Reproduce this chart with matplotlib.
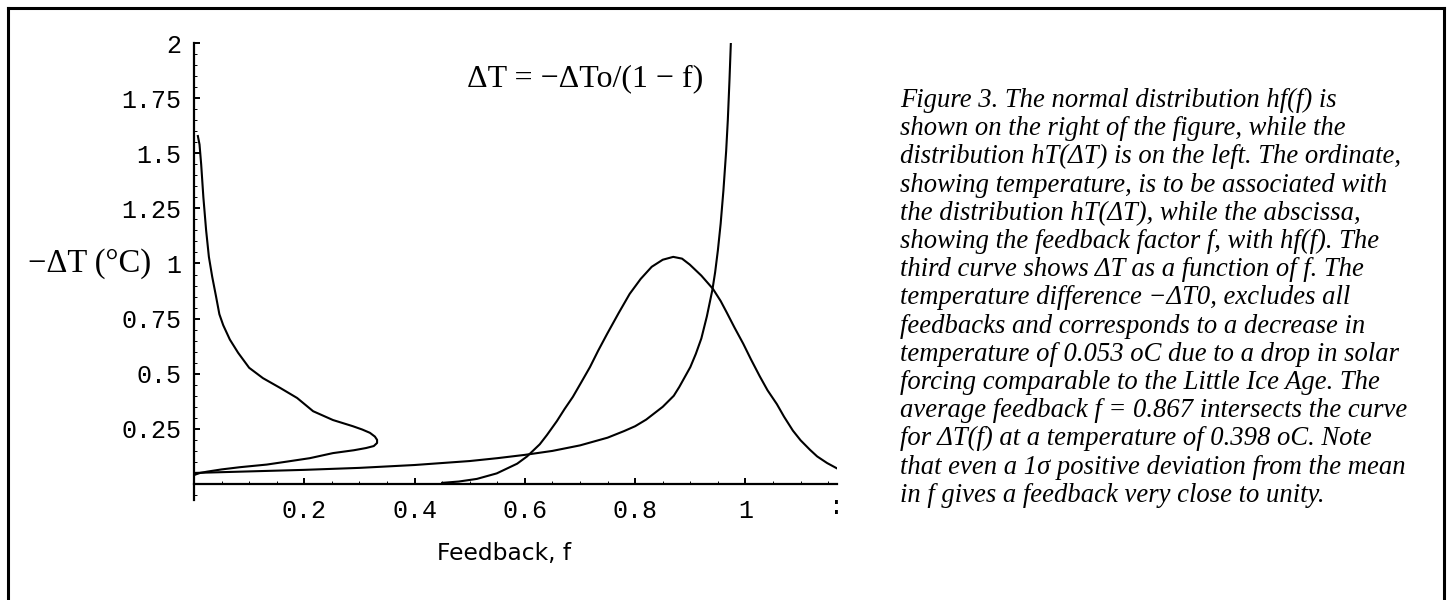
import matplotlib
matplotlib.use("Agg")
import matplotlib.pyplot as plt
from matplotlib.lines import Line2D
from matplotlib.ticker import MultipleLocator, FixedLocator, FixedFormatter

W, H = 1449, 600

# ---- data ----
# Delta T as a function of f:  dT = -dT0/(1-f)
dt_f = [0.0, 0.10, 0.20, 0.30, 0.40, 0.50, 0.55, 0.60, 0.65, 0.70, 0.75,
        0.78, 0.80, 0.82, 0.85, 0.87, 0.88, 0.90, 0.91, 0.92, 0.93, 0.94,
        0.945, 0.95, 0.955, 0.96, 0.965, 0.968, 0.971, 0.9735]
dt_T = [0.050, 0.057, 0.064, 0.073, 0.086, 0.104, 0.117, 0.132, 0.150, 0.175,
        0.210, 0.240, 0.262, 0.292, 0.350, 0.400, 0.440, 0.530, 0.590, 0.660,
        0.760, 0.880, 0.960, 1.060, 1.180, 1.330, 1.510, 1.650, 1.830, 2.000]

# hf(f): normal distribution of the feedback factor
hf_f = [0.45, 0.48, 0.513, 0.549, 0.586, 0.604, 0.627, 0.64, 0.658, 0.672,
        0.687, 0.702, 0.718, 0.733, 0.749, 0.77, 0.79, 0.81, 0.83, 0.85,
        0.869, 0.885, 0.899, 0.92, 0.941, 0.955, 0.966, 0.98, 0.996, 1.01,
        1.026, 1.04, 1.057, 1.07, 1.086, 1.10, 1.117, 1.13, 1.148, 1.165]
hf_h = [0.005, 0.011, 0.023, 0.048, 0.092, 0.125, 0.180, 0.222, 0.285, 0.340,
        0.395, 0.460, 0.530, 0.605, 0.680, 0.775, 0.862, 0.930, 0.985, 1.017,
        1.030, 1.022, 0.995, 0.945, 0.885, 0.830, 0.778, 0.710, 0.636, 0.565,
        0.488, 0.425, 0.362, 0.305, 0.242, 0.198, 0.155, 0.125, 0.095, 0.072]

# hT(dT): distribution of temperature (density on x, temperature on y)
ht_h = [0.007, 0.010, 0.013, 0.017, 0.022, 0.027, 0.033, 0.040, 0.046, 0.053,
        0.065, 0.080, 0.100, 0.125, 0.156, 0.187, 0.216, 0.252, 0.288, 0.305,
        0.319, 0.328, 0.332, 0.332, 0.326, 0.312, 0.290, 0.252, 0.210, 0.170,
        0.132, 0.083, 0.050, 0.024, 0.011, 0.004, 0.0]
ht_T = [1.578, 1.540, 1.450, 1.300, 1.150, 1.030, 0.940, 0.850, 0.770, 0.720,
        0.655, 0.595, 0.527, 0.480, 0.436, 0.390, 0.330, 0.290, 0.262, 0.247,
        0.232, 0.215, 0.200, 0.186, 0.172, 0.163, 0.153, 0.140, 0.117, 0.102,
        0.088, 0.076, 0.066, 0.056, 0.050, 0.044, 0.040]

x_ticks = [0.2, 0.4, 0.6, 0.8, 1.0]
x_tick_labels = ["0.2", "0.4", "0.6", "0.8", "1"]
y_ticks = [0.25, 0.5, 0.75, 1.0, 1.25, 1.5, 1.75, 2.0]
y_tick_labels = ["0.25", "0.5", "0.75", "1", "1.25", "1.5", "1.75", "2"]

caption = [
    "Figure 3. The normal distribution hf(f) is",
    "shown on the right of the figure, while the",
    "distribution hT(\u0394T) is on the left. The ordinate,",
    "showing temperature, is to be associated with",
    "the distribution hT(\u0394T), while the abscissa,",
    "showing the feedback factor f, with hf(f). The",
    "third curve shows \u0394T as a function of f. The",
    "temperature difference \u2212\u0394T0, excludes all",
    "feedbacks and corresponds to a decrease in",
    "temperature of 0.053 oC due to a drop in solar",
    "forcing comparable to the Little Ice Age. The",
    "average feedback f = 0.867 intersects the curve",
    "for \u0394T(f) at a temperature of 0.398 oC. Note",
    "that even a 1\u03c3 positive deviation from the mean",
    "in f gives a feedback very close to unity.",
]


def fx(px):
    return px / W


def fy(py):
    return 1 - py / H


fig = plt.figure(figsize=(W / 100, H / 100), dpi=100)
fig.patch.set_facecolor("white")

ax = fig.add_axes([fx(194), fy(500), (837 - 194) / W, (500 - 43) / H])
ax.set_xlim(0, 1.166)
ax.set_ylim(-0.0727, 2.0)

lw = 1.5
ax.plot(dt_f, dt_T, color="black", lw=lw, clip_on=True)
ax.plot(hf_f, hf_h, color="black", lw=lw)
ax.plot(ht_h, ht_T, color="black", lw=lw)

for s in ["top", "right"]:
    ax.spines[s].set_visible(False)
ax.spines["bottom"].set_position(("data", 0))
ax.spines["left"].set_linewidth(1.6)
ax.spines["bottom"].set_linewidth(1.6)
ax.patch.set_alpha(0)

ax.xaxis.set_major_locator(FixedLocator(x_ticks))
ax.xaxis.set_major_formatter(FixedFormatter(x_tick_labels))
ax.yaxis.set_major_locator(FixedLocator(y_ticks))
ax.yaxis.set_major_formatter(FixedFormatter(y_tick_labels))
ax.xaxis.set_minor_locator(MultipleLocator(0.05))
ax.yaxis.set_minor_locator(MultipleLocator(0.05))

ax.tick_params(which="major", direction="in", length=4, width=1.4,
               labelsize=18)
ax.tick_params(which="minor", direction="in", length=2, width=0.7)
ax.tick_params(axis="x", which="major", pad=11)
ax.tick_params(axis="y", which="major", pad=9)
for lab in ax.get_xticklabels() + ax.get_yticklabels():
    lab.set_fontfamily("Liberation Mono")

# clipped last tick label at right end of the x axis
fig.text(fx(836), fy(507), ":", family="Liberation Mono", fontsize=18,
         ha="center", va="center")

# equation
fig.text(fx(467), fy(86), "\u0394T = \u2212\u0394To/(1 \u2212 f)",
         family="Liberation Serif", fontsize=23, va="baseline", ha="left")

# y label
fig.text(fx(28), fy(272), "\u2212\u0394T (\u00b0C)", family="Liberation Serif",
         fontsize=23.5, va="baseline", ha="left")

# x label
fig.text(fx(437), fy(560), "Feedback, f", family="DejaVu Sans",
         fontsize=16.8, va="baseline", ha="left")

# caption
for i, line in enumerate(caption):
    fig.text(fx(900), fy(107 + 28.2 * i), line, family="Liberation Serif",
             style="italic", fontsize=19.2, va="baseline", ha="left")

# frame (open at bottom)
flw = 2.2
fig.add_artist(Line2D([fx(7.5), fx(7.5)], [0, fy(7.5)], color="black",
                      lw=flw, transform=fig.transFigure))
fig.add_artist(Line2D([fx(7.5), fx(1443.5)], [fy(7.5), fy(7.5)],
                      color="black", lw=flw, transform=fig.transFigure,
                      solid_capstyle="projecting"))
fig.add_artist(Line2D([fx(1443.5), fx(1443.5)], [0, fy(7.5)], color="black",
                      lw=flw, transform=fig.transFigure))

fig.savefig("out.png", dpi=100, facecolor="white")
